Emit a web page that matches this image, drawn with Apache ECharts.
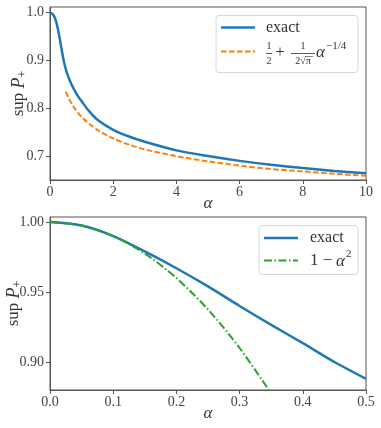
<!DOCTYPE html>
<html>
<head>
<meta charset="utf-8">
<script src="https://cdn.jsdelivr.net/npm/echarts@6/dist/echarts.min.js"></script>
<style>
  html, body { margin: 0; padding: 0; background: #fff; }
  #chart { width: 381px; height: 428px; }
</style>
</head>
<body>
<div id="chart"></div>
<script>
// top panel: alpha from 0 to 10
const alphaTop = [0, 0.05, 0.1, 0.15, 0.2, 0.25, 0.3, 0.35, 0.4, 0.45, 0.5, 0.55, 0.6, 0.65, 0.7, 0.75, 0.8,
    0.9, 1.0, 1.2, 1.5, 2, 2.5, 3, 4, 5, 6, 7, 8, 9, 10];
const exactTop = [1.0, 0.999, 0.996, 0.990, 0.980, 0.966, 0.949, 0.930, 0.911, 0.895, 0.882, 0.8715, 0.8625,
    0.8545, 0.8475, 0.841, 0.835, 0.824, 0.815, 0.797, 0.776, 0.755, 0.741, 0.730, 0.712, 0.700, 0.690,
    0.682, 0.675, 0.669, 0.664];
const alphaAsym = [0.5, 0.6, 0.7, 0.8, 1.0, 1.25, 1.5, 2, 2.5, 3, 4, 5, 6, 7, 8, 9, 10];
const asymTop = [0.835, 0.820, 0.808, 0.798, 0.782, 0.767, 0.755, 0.737, 0.724, 0.714, 0.700, 0.689,
    0.680, 0.673, 0.668, 0.663, 0.659];

// bottom panel: small alpha
const alphaBot = [0, 0.05, 0.1, 0.15, 0.2, 0.25, 0.3, 0.35, 0.4, 0.45, 0.5];
const exactBot = [1.0, 0.9975, 0.990, 0.979, 0.967, 0.954, 0.940, 0.9265, 0.9135, 0.900, 0.888];
const alphaQuad = [0, 0.05, 0.1, 0.15, 0.2, 0.25, 0.3, 0.35];
const quadBot = [1.0, 0.9975, 0.990, 0.9775, 0.960, 0.9375, 0.910, 0.8775];

const topYTicks = [0.7, 0.8, 0.9, 1.0];
const botYTicks = [0.90, 0.95, 1.00];

const FONT = 'Liberation Serif';
const TXT = '#333';
const AXIS = '#555';
const BLUE = '#1f77b4';
const ORANGE = '#ff7f0e';
const GREEN = '#2ca02c';

function zip(xs, ys) {
    return xs.map(function (x, i) { return [x, ys[i]]; });
}

function xAxis(gridIndex, max, interval, digits) {
    return {
        gridIndex: gridIndex,
        type: 'value',
        min: 0,
        max: max,
        interval: interval,
        name: 'α',
        nameLocation: 'middle',
        nameGap: 15,
        nameMoveOverlap: false,
        nameTextStyle: { fontFamily: FONT, fontStyle: 'italic', fontSize: 17, color: TXT },
        axisLine: { lineStyle: { color: AXIS } },
        axisTick: { length: 4, lineStyle: { color: AXIS } },
        axisLabel: {
            margin: 5, fontFamily: FONT, fontSize: 14, color: '#444',
            formatter: function (v) { return v.toFixed(digits); }
        },
        splitLine: { show: false }
    };
}

function yAxis(gridIndex, min, max, ticks, digits, gap) {
    return {
        gridIndex: gridIndex,
        type: 'value',
        min: min,
        max: max,
        name: '{a|sup }{b|P}{c|+}',
        nameLocation: 'middle',
        nameRotate: 90,
        nameGap: gap,
        nameMoveOverlap: false,
        nameTextStyle: {
            color: TXT,
            rich: {
                a: { fontFamily: FONT, fontSize: 17, color: TXT },
                b: { fontFamily: FONT, fontStyle: 'italic', fontSize: 18, color: TXT },
                c: { fontFamily: FONT, fontSize: 12, color: TXT, padding: [8, 0, 0, 0] }
            }
        },
        axisLine: { show: true, lineStyle: { color: AXIS } },
        axisTick: { show: true, length: 4, customValues: ticks, lineStyle: { color: AXIS } },
        axisLabel: {
            margin: 6, fontFamily: FONT, fontSize: 14, color: '#444', customValues: ticks,
            formatter: function (v) { return v.toFixed(digits); }
        },
        splitLine: { show: false }
    };
}

function txt(x, y, text, size, extra) {
    const style = Object.assign({
        text: text, fontFamily: FONT, fontSize: size, fill: TXT,
        align: 'left', verticalAlign: 'middle'
    }, extra || {});
    return { type: 'text', x: x, y: y, style: style, z: 100 };
}

function seg(x1, y1, x2, y2, color, width, dash) {
    return {
        type: 'line', z: 100,
        shape: { x1: x1, y1: y1, x2: x2, y2: y2 },
        style: { stroke: color, lineWidth: width, lineDash: dash || null }
    };
}

function box(x, y, w, h) {
    return {
        type: 'rect', z: 99,
        shape: { x: x, y: y, width: w, height: h, r: 3 },
        style: { fill: 'rgba(255,255,255,0.8)', stroke: '#d8d8d8', lineWidth: 1 }
    };
}

const legendTop = [
    box(216, 15.5, 142, 57),
    seg(221, 27.5, 255, 27.5, BLUE, 2.5),
    txt(266, 27.5, 'exact', 16),
    seg(221, 51.5, 255, 51.5, ORANGE, 2, [5.5, 2.5]),
    txt(269, 46, '1', 10, { align: 'center' }),
    seg(266, 53.5, 272, 53.5, TXT, 0.8),
    txt(269, 61, '2', 10, { align: 'center' }),
    txt(280, 53, '+', 16, { align: 'center' }),
    txt(303, 46, '1', 10, { align: 'center' }),
    seg(291, 53.5, 315, 53.5, TXT, 0.8),
    txt(303, 61, '2√π', 10, { align: 'center' }),
    seg(305, 56.5, 313, 56.5, TXT, 0.6),
    txt(316, 52.5, 'α', 17, { fontStyle: 'italic' }),
    txt(326, 46.5, '−1/4', 11)
];

const legendBot = [
    box(259, 225.5, 99, 49),
    seg(264, 238, 298, 238, BLUE, 2.5),
    txt(310, 238, 'exact', 16),
    seg(264, 260.5, 298, 260.5, GREEN, 2, [8, 2.5, 1.5, 2.5]),
    txt(310, 261, '1 − ', 17),
    txt(336, 261.5, 'α', 17, { fontStyle: 'italic' }),
    txt(346, 254, '2', 11)
];

const chart = echarts.init(document.getElementById('chart'), null, { renderer: 'canvas' });

const options = {
    animation: false,
    backgroundColor: '#fff',
    grid: [
        { left: 50, right: 15, top: 7, height: 173, outerBoundsMode: 'none', containLabel: false,
          show: true, borderColor: AXIS, borderWidth: 1 },
        { left: 50, right: 15, top: 217, height: 173, outerBoundsMode: 'none', containLabel: false,
          show: true, borderColor: AXIS, borderWidth: 1 }
    ],
    xAxis: [
        xAxis(0, 10, 2, 0),
        xAxis(1, 0.5, 0.1, 1)
    ],
    yAxis: [
        yAxis(0, 0.65, 1.012, topYTicks, 1, 21),
        yAxis(1, 0.88, 1.0036, botYTicks, 2, 26)
    ],
    series: [
        {
            name: 'exact', type: 'line', xAxisIndex: 0, yAxisIndex: 0,
            data: zip(alphaTop, exactTop), smooth: 0.3, showSymbol: false,
            lineStyle: { color: BLUE, width: 2.5 }
        },
        {
            name: 'asymptotic', type: 'line', xAxisIndex: 0, yAxisIndex: 0,
            data: zip(alphaAsym, asymTop), smooth: 0.3, showSymbol: false,
            lineStyle: { color: ORANGE, width: 2, type: [5.5, 2.5] }
        },
        {
            name: 'exact', type: 'line', xAxisIndex: 1, yAxisIndex: 1,
            data: zip(alphaBot, exactBot), smooth: 0.3, showSymbol: false,
            lineStyle: { color: BLUE, width: 2.5 }
        },
        {
            name: 'quadratic', type: 'line', xAxisIndex: 1, yAxisIndex: 1,
            data: zip(alphaQuad, quadBot), smooth: 0.3, showSymbol: false,
            clip: true,
            lineStyle: { color: GREEN, width: 2, type: [8, 2.5, 1.5, 2.5] }
        }
    ],
    graphic: legendTop.concat(legendBot)
};
chart.setOption(options);
</script>
</body>
</html>
